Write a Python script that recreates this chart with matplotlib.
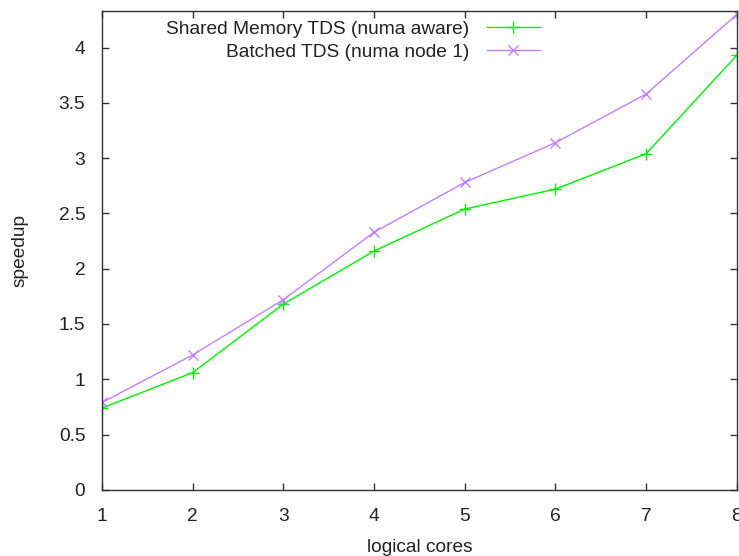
import matplotlib
matplotlib.use("Agg")
import matplotlib.pyplot as plt

plt.rcParams["font.family"] = ["Liberation Sans", "DejaVu Sans"]

cores = [1, 2, 3, 4, 5, 6, 7, 8]
shared_numa = [0.74, 1.06, 1.68, 2.16, 2.54, 2.72, 3.04, 3.93]
batched_node1 = [0.79, 1.22, 1.72, 2.33, 2.78, 3.14, 3.58, 4.30]
yticks = [0, 0.5, 1, 1.5, 2, 2.5, 3, 3.5, 4]

GREEN = "#00ee00"
PURPLE = "#c080ff"
AXIS = "#333333"
TEXT = "#222222"
FS = 13.8

fig = plt.figure(figsize=(7.39, 5.56), dpi=100)
ax = fig.add_axes([0.138, 0.119, 0.859, 0.861])

ax.plot(cores, shared_numa, color=GREEN, lw=1, marker="+", ms=9, mew=1,
        label="Shared Memory TDS (numa aware)")
ax.plot(cores, batched_node1, color=PURPLE, lw=1, marker="x", ms=7, mew=1,
        label="Batched TDS (numa node 1)")

ax.set_xlim(1, 8)
ax.set_ylim(0, 4.33)
ax.set_xticks(cores)
ax.set_yticks(yticks)
ax.set_yticklabels([f"{t:g}" for t in yticks])

# gnuplot-like frame: inward ticks mirrored on all sides
ax.tick_params(direction="in", length=5, width=1, color=AXIS, labelcolor=TEXT,
               labelsize=FS, top=True, right=True)
ax.tick_params(axis="y", pad=12)
ax.tick_params(axis="x", pad=13)
for s in ax.spines.values():
    s.set_color(AXIS)
    s.set_linewidth(1)

ax.set_xlabel("logical cores", fontsize=FS, color=TEXT, labelpad=10)
ax.set_ylabel("speedup", fontsize=FS, color=TEXT, labelpad=22)

ax.legend(loc="upper right", bbox_to_anchor=(0.717, 1.017), frameon=False,
          markerfirst=False, fontsize=FS, handlelength=2.76,
          labelspacing=0.3, handletextpad=0.9, labelcolor=TEXT)

fig.savefig("out.png", dpi=100)
